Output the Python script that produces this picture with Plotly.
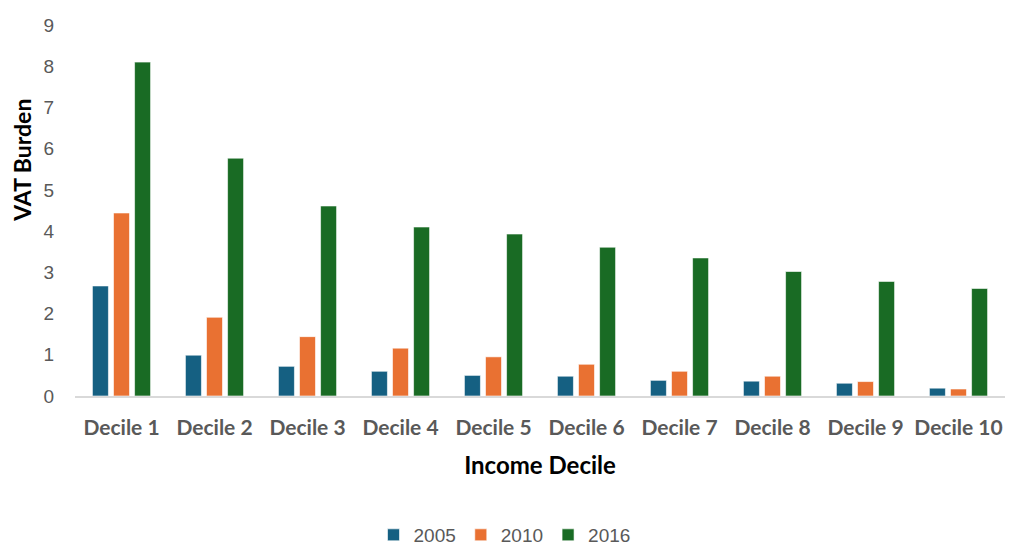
import plotly.graph_objects as go

deciles = ["Decile 1", "Decile 2", "Decile 3", "Decile 4", "Decile 5",
           "Decile 6", "Decile 7", "Decile 8", "Decile 9", "Decile 10"]
vat_2005 = [2.67, 0.99, 0.72, 0.60, 0.50, 0.48, 0.38, 0.36, 0.31, 0.19]
vat_2010 = [4.44, 1.91, 1.44, 1.16, 0.95, 0.77, 0.60, 0.48, 0.35, 0.17]
vat_2016 = [8.10, 5.77, 4.61, 4.10, 3.93, 3.61, 3.35, 3.02, 2.78, 2.61]

series = [("2005", vat_2005, "#156082"),
          ("2010", vat_2010, "#E97132"),
          ("2016", vat_2016, "#196B24")]

fig = go.Figure()
for name, vals, color in series:
    fig.add_trace(go.Bar(
        x=deciles, y=vals, name=name,
        marker=dict(color=color, line=dict(color="rgba(255,255,255,0.6)", width=1)),
    ))

fig.update_layout(
    width=1009, height=547,
    margin=dict(l=75, r=4, t=25, b=151, autoexpand=False),
    paper_bgcolor="white", plot_bgcolor="white",
    barmode="group", bargap=0.32, bargroupgap=0.24,
    font=dict(family="Liberation Sans, Arial, sans-serif", color="#595959", size=19),
    legend=dict(orientation="h", xref="container", x=0.5, xanchor="center",
                yref="container", y=0.022, yanchor="middle",
                font=dict(size=19, color="#595959"), itemwidth=30, traceorder="normal"),
    showlegend=True,
)

# y-axis title placed as a rotated annotation (sits above the plot's midline)
fig.add_annotation(
    text="<b>VAT Burden</b>", textangle=-90,
    xref="paper", x=0, xshift=-53, xanchor="center",
    yref="paper", y=(1 - (161 - 25) / 371.5), yanchor="middle",
    showarrow=False, font=dict(family="Lato, sans-serif", size=23, color="black"),
)

fig.update_yaxes(
    range=[0, 9], dtick=1, showgrid=False, zeroline=False, showline=False,
    tickfont=dict(size=19, color="#595959"),
    ticklabelstandoff=20,
)
fig.update_xaxes(
    showline=True, linecolor="#D9D9D9", linewidth=2, showgrid=False,
    tickfont=dict(family="Lato, sans-serif", size=21, color="#595959", weight="bold"),
    ticklabelstandoff=12,
    title=dict(text="<b>Income Decile</b>", font=dict(family="Lato, sans-serif", size=24, color="black"),
               standoff=19),
)

fig.write_html("out.html")
